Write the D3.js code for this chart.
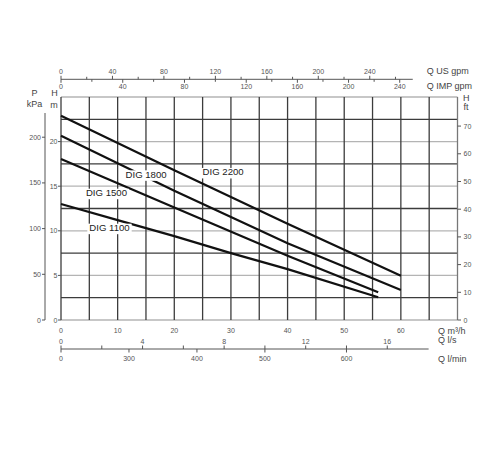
<!DOCTYPE html>
<html>
<head>
<meta charset="utf-8">
<script src="https://cdn.jsdelivr.net/npm/d3@7"></script>
<style>
  body { margin: 0; background: #fff; }
  text { font-family: "Liberation Sans", Arial, sans-serif; }
</style>
</head>
<body>
<div id="chart"></div>
<script>
// pump curves, Q in m3/h, H in m
var dig2200 = [[0, 22.9], [20, 16.8], [40, 10.8], [60, 4.95]];
var dig1800 = [[0, 20.66], [20, 14.5], [40, 8.6], [60, 3.36]];
var dig1500 = [[0, 18.05], [20, 12.6], [40, 7.2], [56, 3.1]];
var dig1100 = [[0, 13.0], [10, 11.2], [20, 9.4], [30, 7.5], [40, 5.7], [56, 2.55]];

var seriesNames = ["DIG 2200", "DIG 1800", "DIG 1500", "DIG 1100"];
var seriesData = [dig2200, dig1800, dig1500, dig1100];
// label anchors (Q, H) for the curve names
var labelAt = [[25.0, 16.6], [11.4, 16.33], [4.4, 14.27], [5.0, 10.35]];

// tick values
var qTicks = [0, 10, 20, 30, 40, 50, 60];
var hTicks = [0, 5, 10, 15, 20];
var kpaTicks = [0, 50, 100, 150, 200];
var ftTicks = [0, 10, 20, 30, 40, 50, 60, 70];
var usTicks = [0, 40, 80, 120, 160, 200, 240];
var impTicks = [0, 40, 80, 120, 160, 200, 240];
var lsTicks = [0, 4, 8, 12, 16];
var lminTicks = [0, 300, 400, 500, 600];

var width = 500, height = 450;
var svg = d3.select("#chart").append("svg")
            .attr("width", width)
            .attr("height", height);

var x = d3.scaleLinear().domain([0, 70]).range([61, 457.5]);
var y = d3.scaleLinear().domain([0, 25]).range([320, 97]);
var yKpa = d3.scaleLinear().domain([0, 244]).range([320, 97]);
var yFt = d3.scaleLinear().domain([0, 80.5]).range([320, 97]);

// secondary flow units, mapped back to m3/h
var usToQ = d3.scaleLinear().domain([0, 240]).range([0, 240 / 4.403]);
var impToQ = d3.scaleLinear().domain([0, 120, 240]).range([0, 32.7, 59.8]);
var lsToQ = d3.scaleLinear().domain([0, 16]).range([0, 57.6]);
var lminToQ = d3.scaleLinear().domain([0, 300, 400, 500, 600]).range([0, 12, 24, 36, 50.4]);

var dark = "#3c3c3c", light = "#b4b4b4", txt = "#555";

// grid
var grid = svg.append("g").attr("class", "grid");
d3.range(0, 25.01, 2.5).forEach(function (v, i) {
  grid.append("line")
      .attr("x1", x(0)).attr("x2", x(70))
      .attr("y1", y(v)).attr("y2", y(v))
      .attr("stroke", i % 2 ? dark : light)
      .attr("stroke-width", 1.3);
});
d3.range(0, 70.01, 5).forEach(function (v) {
  grid.append("line")
      .attr("x1", x(v)).attr("x2", x(v))
      .attr("y1", y(0)).attr("y2", y(25))
      .attr("stroke", v == 70 ? "#777" : dark)
      .attr("stroke-width", 1.3);
});

// curves
var line = d3.line()
             .x(function (d) { return x(d[0]); })
             .y(function (d) { return y(d[1]); });

svg.append("g").selectAll("path")
   .data(seriesData)
   .enter().append("path")
   .attr("d", line)
   .attr("fill", "none")
   .attr("stroke", "#111")
   .attr("stroke-width", 2.2);

// curve names on white boxes
var lab = svg.append("g");
seriesNames.forEach(function (name, i) {
  var t = lab.append("text")
             .attr("x", x(labelAt[i][0]))
             .attr("y", y(labelAt[i][1]))
             .attr("dominant-baseline", "central")
             .attr("font-size", "9.6px")
             .attr("fill", "#222")
             .text(name);
  var b = t.node().getBBox();
  lab.insert("rect", "text")
     .attr("x", b.x - 2).attr("y", b.y + 1.5)
     .attr("width", b.width + 4).attr("height", b.height - 0.5)
     .attr("fill", "#fff");
});

function label(g, px, py, s, anchor, size, color) {
  g.append("text")
   .attr("x", px).attr("y", py)
   .attr("text-anchor", anchor || "middle")
   .attr("dominant-baseline", "central")
   .attr("font-size", size || "7px")
   .attr("fill", color || txt)
   .text(s);
}

function tick(g, x1, y1, x2, y2) {
  g.append("line")
   .attr("x1", x1).attr("y1", y1).attr("x2", x2).attr("y2", y2)
   .attr("stroke", "#555").attr("stroke-width", 1);
}

var ax = svg.append("g");

// left: H m on plot border
hTicks.forEach(function (v) {
  tick(ax, x(0) - 3, y(v), x(0), y(v));
  label(ax, x(0) - 3.5, y(v), v, "end");
});
label(ax, 54.5, 93, "H", "middle", "9px", "#444");
label(ax, 54, 104.5, "m", "middle", "9px", "#444");

// left: P kPa
tick(ax, 45, 113, 45, yKpa(0));
kpaTicks.forEach(function (v) {
  tick(ax, 42, yKpa(v), 45, yKpa(v));
  label(ax, 41, yKpa(v), v, "end");
});
label(ax, 34.5, 93, "P", "middle", "9px", "#444");
label(ax, 34.5, 103.5, "kPa", "middle", "9px", "#444");

// right: H ft
ftTicks.forEach(function (v) {
  tick(ax, x(70), yFt(v), x(70) + 3.5, yFt(v));
  label(ax, x(70) + 6, yFt(v), v, "start");
});
label(ax, 463, 97.5, "H", "start", "9px", "#444");
label(ax, 463.5, 106.5, "ft", "start", "9px", "#444");

// bottom: Q m3/h
qTicks.forEach(function (v) {
  label(ax, x(v), 330.7, v);
});
label(ax, 438, 331, "Q m³/h", "start", "9px", "#444");

// bottom: l/s above, l/min below one line
var by = 349;
tick(ax, x(0), by, x(64.9), by);
tick(ax, x(0), by - 3.5, x(0), by + 3.5);
d3.range(2, 17, 2).forEach(function (v) {
  tick(ax, x(lsToQ(v)), by - 3.5, x(lsToQ(v)), by);
});
lsTicks.forEach(function (v) {
  label(ax, x(lsToQ(v)), 341, v);
});
lminTicks.forEach(function (v) {
  if (v) tick(ax, x(lminToQ(v)), by, x(lminToQ(v)), by + 3.5);
  label(ax, x(lminToQ(v)), 358.8, v);
});
label(ax, 438, 340, "Q l/s", "start", "9px", "#444");
label(ax, 438, 358.5, "Q l/min", "start", "9px", "#444");

// top: US gpm above, IMP gpm below one line
var ty = 79.3;
tick(ax, x(0), ty, x(62.1), ty);
tick(ax, x(0), ty - 3.5, x(0), ty + 3.5);
d3.range(20, 261, 20).forEach(function (v) {
  tick(ax, x(usToQ(v)), ty - (v % 40 ? 2.5 : 3.5), x(usToQ(v)), ty);
});
d3.range(20, 241, 20).forEach(function (v) {
  tick(ax, x(impToQ(v)), ty, x(impToQ(v)), ty + (v % 40 ? 2.5 : 3.5));
});
usTicks.forEach(function (v) {
  label(ax, x(usToQ(v)), 71.7, v);
});
impTicks.forEach(function (v) {
  label(ax, x(impToQ(v)), 86.8, v);
});
label(ax, 426.7, 70.5, "Q US gpm", "start", "9px", "#444");
label(ax, 426.7, 85.5, "Q IMP gpm", "start", "9px", "#444");
</script>
</body>
</html>
